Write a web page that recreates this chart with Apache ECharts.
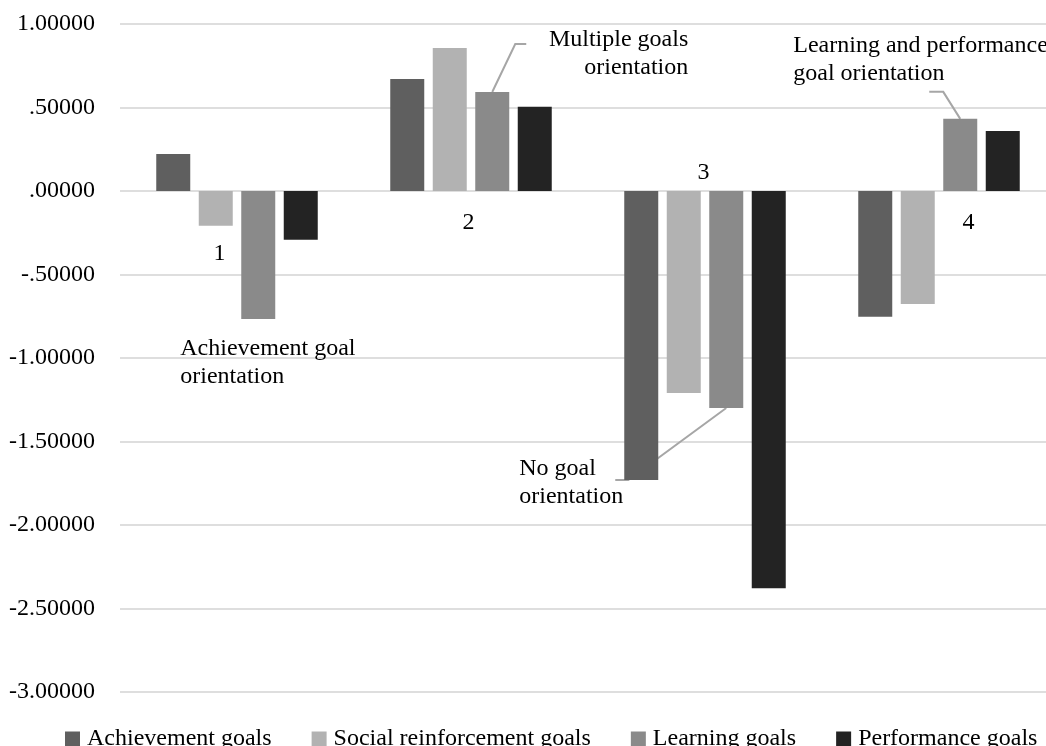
<!DOCTYPE html>
<html><head><meta charset="utf-8">
<script src="https://cdn.jsdelivr.net/npm/echarts@6/dist/echarts.min.js"></script>
<style>html,body{margin:0;padding:0;background:#fff}#c{width:1046px;height:746px}</style>
</head><body><div id="c"></div>
<script>
// ---- data ----
const categories = ['1', '2', '3', '4'];
const seriesNames = ['Achievement goals', 'Social reinforcement goals', 'Learning goals', 'Performance goals'];
const achievement = [0.222, 0.671, -1.731, -0.753];
const social = [-0.208, 0.857, -1.209, -0.676];
const learning = [-0.766, 0.593, -1.299, 0.432];
const performance = [-0.292, 0.504, -2.378, 0.360];
const yMin = -3, yMax = 1, yInterval = 0.5;
const clusterLabels = ['1', '2', '3', '4'];
const annotationTexts = ['Achievement goal\norientation', 'Multiple goals\norientation', 'No goal\norientation', 'Learning and performance\ngoal orientation'];

// ---- style / layout ----
const FONT = '"Liberation Serif", "Times New Roman", serif';
const colors = ['#5f5f5f', '#b2b2b2', '#8a8a8a', '#232323'];
const anchorSeries = 2; // annotations attach to the Learning goals bar
const annLayout = [
  { leader: null, tx: -78, ty: 16, align: 'left' },
  { leader: [[0, 0], [23, -48], [34, -48]], tx: 196, ty: -66, align: 'right' },
  { leader: [[0, 0], [-98, 72], [-111, 72]], tx: -207, ty: 47, align: 'left' },
  { leader: [[0, 0], [-17, -27], [-31, -27]], tx: -167, ty: -87, align: 'left' }
];
const numLayout = [[-17.5, 63], [-2.5, 32], [-1.5, -18], [29.5, 32]];

function fmt(v) {
  let s = Math.abs(v).toFixed(5);
  if (s.startsWith('0.')) s = s.slice(1);
  return (v < 0 ? '-' : '') + s;
}

const chart = echarts.init(document.getElementById('c'));
const seriesData = [achievement, social, learning, performance];
chart.setOption({
  animation: false,
  backgroundColor: '#fff',
  grid: { left: 120, width: 936, top: 24, bottom: 54, containLabel: false, outerBoundsMode: 'none' },
  legend: {
    left: 65, top: 727, padding: 0, icon: 'rect', itemWidth: 15, itemHeight: 15, itemGap: 40,
    textStyle: { fontSize: 24, fontFamily: FONT, color: '#000', padding: [0, 0, 0, 2] },
    data: seriesNames
  },
  xAxis: {
    type: 'category', data: categories,
    axisLine: { show: false }, axisTick: { show: false }, axisLabel: { show: false },
    splitLine: { show: false }
  },
  yAxis: {
    type: 'value', min: yMin, max: yMax, interval: yInterval,
    axisLine: { show: false }, axisTick: { show: false },
    axisLabel: { fontSize: 24, fontFamily: FONT, color: '#000', margin: 25, formatter: fmt },
    splitLine: { lineStyle: { color: '#dedede', width: 2 } }
  },
  series: seriesNames.map((n, i) => ({
    name: n, type: 'bar', data: seriesData[i], barWidth: 34, barGap: '25%',
    itemStyle: { color: colors[i] }
  }))
});

// annotations placed from library-computed layout
const graphics = [];
const model = chart.getModel();
const bars = model.getSeriesByIndex(anchorSeries).getData();
categories.forEach((c, k) => {
  const lay = bars.getItemLayout(k);
  const ax = lay.x + lay.width / 2;
  const ay = lay.y + lay.height; // value end of the bar
  const L = annLayout[k];
  if (L.leader) {
    graphics.push({
      type: 'polyline', silent: true,
      shape: { points: L.leader.map(p => [ax + p[0], ay + p[1]]) },
      style: { stroke: '#a6a6a6', lineWidth: 2, fill: null }
    });
  }
  graphics.push({
    type: 'text', silent: true, x: ax + L.tx, y: ay + L.ty,
    style: {
      text: annotationTexts[k], fontSize: 24, fontFamily: FONT, fill: '#000',
      align: L.align, textAlign: L.align, verticalAlign: 'top', textVerticalAlign: 'top', lineHeight: 28
    }
  });
  const base = chart.convertToPixel({ gridIndex: 0 }, [k, 0]);
  graphics.push({
    type: 'text', silent: true, x: base[0] + numLayout[k][0], y: base[1] + numLayout[k][1],
    style: {
      text: clusterLabels[k], fontSize: 24, fontFamily: FONT, fill: '#000',
      align: 'center', textAlign: 'center', verticalAlign: 'middle', textVerticalAlign: 'middle'
    }
  });
});
chart.setOption({ graphic: graphics });
</script>
</body></html>
